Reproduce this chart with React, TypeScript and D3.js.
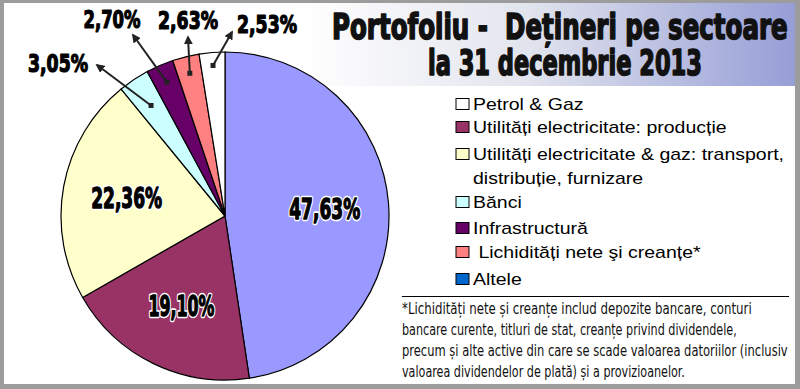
import React, { useLayoutEffect, useRef, useState } from "react";
import * as d3 from "d3";

// ---- data ----
const categories = [
  "Petrol & Gaz",
  "Utilități electricitate: producție",
  "Utilități electricitate & gaz: transport, distribuție, furnizare",
  "Bănci",
  "Infrastructură",
  "Lichidități nete şi creanțe*",
  "Altele",
];
const values = [47.63, 19.1, 22.36, 3.05, 2.7, 2.63, 2.53];
const sliceColors = ["#9999FF", "#993366", "#FFFFCC", "#CCFFFF", "#660066", "#FF8080", "#FFFFFF"];
const legendColors = ["#FFFFFF", "#993366", "#FFFFCC", "#CCFFFF", "#660066", "#FF8080", "#0066CC"];
const legendLines = [
  ["Petrol & Gaz"],
  ["Utilități electricitate: producție"],
  ["Utilități electricitate & gaz: transport,", "distribuție, furnizare"],
  ["Bănci"],
  ["Infrastructură"],
  [" Lichidități nete şi creanțe*"],
  ["Altele"],
];
const titleLines = ["Portofoliu -  Dețineri pe sectoare", "la 31 decembrie 2013"];
const footnoteLines = [
  "*Lichidități nete și creanțe includ depozite bancare, conturi",
  "bancare curente, titluri de stat, creanțe privind dividendele,",
  "precum și alte active din care se scade valoarea datoriilor (inclusiv",
  "valoarea dividendelor de plată) și a provizioanelor.",
];

// ---- layout ----
const W = 800;
const H = 389;
const CX = 225;
const CY = 216;
const R = 164;
const bigLabelR = 100;
const calloutStartR = [133, 146, 147, 151];
const calloutTips = [
  [97, 65],
  [133, 35],
  [188, 37],
  [232, 32],
];
const calloutLabels = [
  [58, 72, 60],
  [112, 28, 57],
  [188, 29, 60],
  [267, 33, 60],
];
const legendRowY = [104, 127, 154, 202, 228, 252, 279];
const titlePos = [
  [332, 39, 456],
  [428, 75, 274],
];
const footnoteEnds = [752, 737, 788, 685];

const fmt = (v: number) => d3.format(".2f")(v).replace(".", ",") + "%";
const condFont = "'Liberation Sans Narrow', 'DejaVu Sans Condensed', 'Liberation Sans', sans-serif";

type FitProps = {
  x: number;
  y: number;
  width: number;
  anchor?: "start" | "middle";
  text: string;
  [k: string]: any;
};

function FitText({ x, y, width, anchor = "start", text, ...rest }: FitProps) {
  const ref = useRef<SVGTextElement>(null);
  const [s, setS] = useState(1);
  useLayoutEffect(() => {
    if (ref.current) {
      const w = ref.current.getComputedTextLength();
      if (w > 0) setS(width / w);
    }
  }, [text, width]);
  return (
    <text
      ref={ref}
      transform={`translate(${x},${y}) scale(${s},1)`}
      textAnchor={anchor}
      style={{ whiteSpace: "pre" }}
      {...rest}
    >
      {text}
    </text>
  );
}

export default function App() {
  const pie = d3
    .pie<number>()
    .sort(null)
    .value((d) => d)
    .startAngle(0)
    .endAngle(2 * Math.PI);
  const arcs = pie(values);
  const arc = d3.arc<d3.PieArcDatum<number>>().innerRadius(0).outerRadius(R);

  return (
    <svg
      width={W}
      height={H}
      viewBox={`0 0 ${W} ${H}`}
      style={{ position: "fixed", left: 0, top: 0 }}
    >
      <defs>
        <linearGradient id="tg" x1="0" y1="0" x2="1" y2="0">
          <stop offset="0" stopColor="#ffffff" />
          <stop offset="0.45" stopColor="#e3e5ee" />
          <stop offset="1" stopColor="#969ed6" />
        </linearGradient>
        <marker
          id="ah"
          viewBox="0 0 10 10"
          refX="8"
          refY="5"
          markerWidth="4.5"
          markerHeight="4.5"
          orient="auto"
        >
          <path d="M0,0 L10,5 L0,10 z" fill="#222" />
        </marker>
      </defs>
      <rect x={0} y={0} width={W} height={H} fill="#9c9c9c" />
      <rect x={4} y={3} width={791} height={381} fill="#ffffff" />
      <rect x={300} y={3} width={495} height={83} fill="url(#tg)" />

      {titleLines.map((t, i) => (
        <FitText
          key={i}
          x={titlePos[i][0]}
          y={titlePos[i][1]}
          width={titlePos[i][2]}
          text={t}
          fontFamily={condFont}
          fontWeight="bold"
          fontSize={35}
          fill="#111"
          stroke="#111"
          strokeWidth={1.6}
          strokeLinejoin="round"
        />
      ))}

      <g transform={`translate(${CX},${CY})`}>
        {arcs.map((a, i) => (
          <path key={i} d={arc(a) || ""} fill={sliceColors[i]} stroke="#000" strokeWidth={1.2} />
        ))}
        {arcs.slice(0, 3).map((a, i) => {
          const mid = (a.startAngle + a.endAngle) / 2;
          const [x, y] = d3.pointRadial(mid, bigLabelR);
          const common = {
            x,
            y: y + 10,
            width: i === 1 ? 66 : 71,
            anchor: "middle" as const,
            text: fmt(values[i]),
            fontFamily: condFont,
            fontWeight: "bold",
            fontSize: 28,
            strokeLinejoin: "round",
          };
          return (
            <g key={i}>
              <FitText {...common} fill="#fff" stroke="#fff" strokeWidth={4.5} />
              <FitText {...common} fill="#000" stroke="#000" strokeWidth={1.3} />
            </g>
          );
        })}
      </g>

      {arcs.slice(3).map((a, j) => {
        const mid = (a.startAngle + a.endAngle) / 2;
        const [sx, sy] = d3.pointRadial(mid, calloutStartR[j]);
        const x0 = CX + sx;
        const y0 = CY + sy;
        const [tx, ty] = calloutTips[j];
        const [lx, ly, lw] = calloutLabels[j];
        return (
          <g key={j}>
            <line
              x1={x0}
              y1={y0}
              x2={tx}
              y2={ty}
              stroke="#222"
              strokeWidth={2}
              markerEnd="url(#ah)"
            />
            <rect x={x0 - 2.5} y={y0 - 2.5} width={5} height={5} fill="#222" />
            <FitText
              x={lx}
              y={ly}
              width={lw}
              anchor="middle"
              text={fmt(values[j + 3])}
              fontFamily={condFont}
              fontWeight="bold"
              fontSize={24}
              fill="#000"
              stroke="#000"
              strokeWidth={1.2}
              strokeLinejoin="round"
            />
          </g>
        );
      })}

      {categories.map((c, i) => (
        <g key={c}>
          <rect
            x={456}
            y={legendRowY[i] - 5.5}
            width={13}
            height={11}
            fill={legendColors[i]}
            stroke="#000"
            strokeWidth={1}
          />
          {legendLines[i].map((ln, k) => (
            <text
              key={k}
              transform={`translate(${473},${legendRowY[i] + 6 + k * 24}) scale(1.22,1)`}
              fontFamily="'Liberation Sans', Arial, sans-serif"
              fontSize={16}
              fill="#000"
              style={{ whiteSpace: "pre" }}
            >
              {ln}
            </text>
          ))}
        </g>
      ))}

      <line x1={402} y1={296.5} x2={789} y2={296.5} stroke="#000" strokeWidth={1} />
      {footnoteLines.map((t, i) => (
        <FitText
          key={i}
          x={402}
          y={314 + i * 21}
          width={footnoteEnds[i] - 402}
          text={t}
          fontFamily={condFont}
          fontSize={15}
          fill="#111"
        />
      ))}
    </svg>
  );
}
